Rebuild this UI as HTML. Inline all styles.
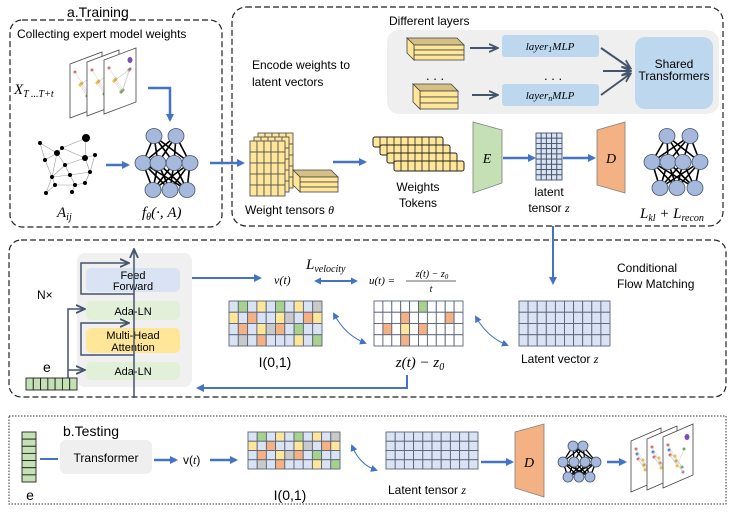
<!DOCTYPE html>
<html><head><meta charset="utf-8"><style>
html,body{margin:0;padding:0;background:#fff;}
svg{display:block;font-family:"Liberation Sans",sans-serif;}
.m{font-family:"Liberation Serif",serif;font-style:italic;}
</style></head><body>
<svg id="s" width="729" height="512" viewBox="0 0 729 512" xmlns="http://www.w3.org/2000/svg">
<defs>
<marker id="ab" markerWidth="8" markerHeight="8" refX="6" refY="4" orient="auto" markerUnits="userSpaceOnUse"><path d="M0,0 L8,4 L0,8 z" fill="#4472c4"/></marker>
<marker id="ag" markerWidth="10" markerHeight="10" refX="8" refY="5" orient="auto" markerUnits="userSpaceOnUse"><path d="M0,1 L9,5 L0,9" fill="none" stroke="#44546a" stroke-width="1.8"/></marker>
<marker id="as" markerWidth="7" markerHeight="7" refX="5" refY="3.5" orient="auto" markerUnits="userSpaceOnUse"><path d="M0,0 L7,3.5 L0,7 z" fill="#4472c4"/></marker>
<marker id="asr" markerWidth="7" markerHeight="7" refX="2" refY="3.5" orient="auto" markerUnits="userSpaceOnUse"><path d="M7,0 L0,3.5 L7,7 z" fill="#4472c4"/></marker>
</defs>

<rect x="10" y="20" width="212" height="207" rx="12" fill="none" stroke="#222" stroke-dasharray="6,3" stroke-width="1.2"/>
<rect x="232" y="7" width="491" height="219" rx="14" fill="none" stroke="#222" stroke-dasharray="6,3" stroke-width="1.2"/>
<rect x="9" y="240" width="717" height="157" rx="12" fill="none" stroke="#222" stroke-dasharray="6,3" stroke-width="1.2"/>
<rect x="9" y="416" width="717" height="88" fill="none" stroke="#333" stroke-dasharray="1.5,1.5" stroke-width="1"/>

<text x="67" y="17" font-size="14">a.Training</text>
<text x="17" y="38" font-size="12">Collecting expert model weights</text>
<text x="14" y="94" font-size="15" class="m">X<tspan font-size="10" dy="3">T ...T+t</tspan></text>
<g id="planesA"></g>
<path d="M148,88 H170 V120" fill="none" stroke="#4472c4" stroke-width="2.5" marker-end="url(#ab)"/>
<g id="graphA"></g>
<text x="57" y="217" font-size="15" class="m">A<tspan font-size="10" dy="3">ij</tspan></text>
<line x1="106" y1="165" x2="128" y2="165" stroke="#4472c4" stroke-width="2.5" marker-end="url(#ab)"/>
<g id="nn1"></g>
<text x="142" y="217" font-size="15" class="m">f<tspan font-size="10" dy="3">θ</tspan><tspan dy="-3">(·, A)</tspan></text>
<line x1="210" y1="163" x2="243" y2="163" stroke="#4472c4" stroke-width="2.5" marker-end="url(#ab)"/>

<text x="389" y="25" font-size="12">Different layers</text>
<rect x="387" y="30" width="332" height="84" rx="12" fill="#efefef"/>
<text x="252" y="69" font-size="12">Encode weights to</text>
<text x="252" y="86" font-size="12">latent vectors</text>
<g id="blocks"></g>
<line x1="470" y1="48" x2="497" y2="48" stroke="#44546a" stroke-width="2" marker-end="url(#ag)"/>
<line x1="472" y1="95" x2="497" y2="95" stroke="#44546a" stroke-width="2" marker-end="url(#ag)"/>
<rect x="502" y="35" width="97" height="22" rx="3" fill="#bdd7ee"/>
<rect x="502" y="84" width="97" height="22" rx="3" fill="#bdd7ee"/>
<text x="550" y="50" font-size="11" text-anchor="middle" class="m">layer<tspan font-size="8" dy="2">1</tspan><tspan dy="-2">MLP</tspan></text>
<text x="550" y="99" font-size="11" text-anchor="middle" class="m">layer<tspan font-size="8" dy="2">n</tspan><tspan dy="-2">MLP</tspan></text>
<text x="426" y="80" font-size="13">. . .</text>
<text x="544" y="80" font-size="13">. . .</text>
<line x1="601" y1="48" x2="630" y2="68" stroke="#44546a" stroke-width="2" marker-end="url(#ag)"/>
<line x1="603" y1="71" x2="630" y2="71" stroke="#44546a" stroke-width="2" marker-end="url(#ag)"/>
<line x1="601" y1="95" x2="630" y2="74" stroke="#44546a" stroke-width="2" marker-end="url(#ag)"/>
<rect x="635" y="37" width="78" height="72" rx="10" fill="#bdd7ee"/>
<text x="674" y="68" font-size="12" text-anchor="middle">Shared</text>
<text x="674" y="80" font-size="12" text-anchor="middle">Transformers</text>

<g id="wt"></g>
<text x="245" y="214" font-size="12">Weight tensors <tspan class="m">θ</tspan></text>
<line x1="333" y1="162" x2="365" y2="162" stroke="#4472c4" stroke-width="2.5" marker-end="url(#ab)"/>
<g id="tokens"></g>
<text x="418" y="191" font-size="12" text-anchor="middle">Weights</text>
<text x="418" y="207" font-size="12" text-anchor="middle">Tokens</text>
<polygon points="473,122 502,130 502,183 473,193" fill="#c5e0b4" stroke="#7f7f7f" stroke-width="0.8"/>
<text x="487" y="163" font-size="14" class="m" text-anchor="middle">E</text>
<line x1="503" y1="158" x2="534" y2="158" stroke="#4472c4" stroke-width="2.5" marker-end="url(#ab)"/>
<g id="lat1"></g>
<text x="549" y="196" font-size="12" text-anchor="middle">latent</text>
<text x="549" y="212" font-size="12" text-anchor="middle">tensor <tspan class="m">z</tspan></text>
<line x1="563" y1="158" x2="594" y2="158" stroke="#4472c4" stroke-width="2.5" marker-end="url(#ab)"/>
<polygon points="597,130 625,122 625,193 597,185" fill="#f4b183" stroke="#7f7f7f" stroke-width="0.8"/>
<text x="611" y="163" font-size="14" class="m" text-anchor="middle">D</text>
<g id="nn2"></g>
<text x="640" y="218" font-size="15" class="m">L<tspan font-size="10" dy="3">kl</tspan><tspan dy="-3"> + L</tspan><tspan font-size="10" dy="3">recon</tspan></text>

<line x1="553" y1="226" x2="553" y2="283" stroke="#4472c4" stroke-width="2" marker-end="url(#ab)"/>

<rect x="77" y="253" width="115" height="134" rx="8" fill="#f0f0f0"/>
<rect x="86" y="268" width="94" height="24" rx="5" fill="#dae3f3"/>
<text x="133" y="279" font-size="11" text-anchor="middle">Feed</text>
<text x="133" y="290" font-size="11" text-anchor="middle">Forward</text>
<rect x="86" y="301" width="94" height="19" rx="5" fill="#e2f0d9"/>
<text x="133" y="315" font-size="11" text-anchor="middle">Ada-LN</text>
<rect x="86" y="328" width="94" height="25" rx="5" fill="#ffe699"/>
<text x="133" y="339" font-size="11" text-anchor="middle">Multi-Head</text>
<text x="133" y="351" font-size="11" text-anchor="middle">Attention</text>
<rect x="86" y="362" width="94" height="18" rx="5" fill="#e2f0d9"/>
<text x="133" y="375" font-size="11" text-anchor="middle">Ada-LN</text>
<line x1="134" y1="398" x2="134" y2="250" stroke="#44546a" stroke-width="1.5" marker-end="url(#ag)"/>
<path d="M134,294 H81 V263 H128" fill="none" stroke="#44546a" stroke-width="1.5" marker-end="url(#ag)"/>
<path d="M134,355 H81 V323 H128" fill="none" stroke="#44546a" stroke-width="1.5" marker-end="url(#ag)"/>
<path d="M68,378 V309 H84" fill="none" stroke="#44546a" stroke-width="1.5" marker-end="url(#ag)"/>
<line x1="68" y1="370" x2="84" y2="370" stroke="#44546a" stroke-width="1.5" marker-end="url(#ag)"/>
<text x="37" y="299" font-size="12">N×</text>
<text x="43" y="372" font-size="14">e</text>
<g id="emb1"></g>
<line x1="192" y1="278" x2="260" y2="278" stroke="#4472c4" stroke-width="2" marker-end="url(#ab)"/>
<text x="274" y="284" font-size="12" class="m">v(t)</text>
<text x="306" y="269" font-size="15" class="m">L<tspan font-size="10" dy="3">velocity</tspan></text>
<line x1="316" y1="281" x2="356" y2="281" stroke="#4472c4" stroke-width="2" marker-start="url(#asr)" marker-end="url(#as)"/>
<text x="369" y="284" font-size="11" class="m">u(t) =</text>
<text x="432" y="277" font-size="10" class="m" text-anchor="middle">z(t) − z<tspan font-size="7" dy="2">0</tspan></text>
<line x1="406" y1="281" x2="456" y2="281" stroke="#333" stroke-width="0.8"/>
<text x="431" y="292" font-size="10" class="m" text-anchor="middle">t</text>
<g id="g1"></g>
<text x="275" y="367" font-size="14" text-anchor="middle">I(0,1)</text>
<g id="g2"></g>
<text x="420" y="367" font-size="15" class="m" text-anchor="middle">z(t) − z<tspan font-size="10" dy="3">0</tspan></text>
<g id="g3"></g>
<text x="521" y="363" font-size="12">Latent vector <tspan class="m">z</tspan></text>
<text x="617" y="272" font-size="12">Conditional</text>
<text x="617" y="288" font-size="12">Flow Matching</text>
<path d="M334,314 Q345,335 365,343" fill="none" stroke="#4472c4" stroke-width="1" marker-start="url(#asr)" marker-end="url(#as)"/>
<path d="M476,317 Q487,337 507,345" fill="none" stroke="#4472c4" stroke-width="1" marker-start="url(#asr)" marker-end="url(#as)"/>
<path d="M407,375 V388 H198" fill="none" stroke="#4472c4" stroke-width="2" marker-end="url(#ab)"/>

<text x="63" y="436" font-size="14">b.Testing</text>
<g id="emb2"></g>
<text x="30" y="500" font-size="14" text-anchor="middle">e</text>
<line x1="40" y1="459" x2="58" y2="459" stroke="#4472c4" stroke-width="2"/>
<rect x="60" y="440" width="92" height="34" rx="6" fill="#efefef"/>
<text x="106" y="462" font-size="12" text-anchor="middle">Transformer</text>
<line x1="154" y1="460" x2="176" y2="460" stroke="#4472c4" stroke-width="2.5" marker-end="url(#ab)"/>
<text x="183" y="464" font-size="12">v(<tspan class="m">t</tspan>)</text>
<line x1="210" y1="460" x2="236" y2="460" stroke="#4472c4" stroke-width="2.5" marker-end="url(#ab)"/>
<g id="g4"></g>
<text x="290" y="500" font-size="14" text-anchor="middle">I(0,1)</text>
<path d="M352,446 Q360,465 376,470" fill="none" stroke="#4472c4" stroke-width="1" marker-start="url(#asr)" marker-end="url(#as)"/>
<g id="g5"></g>
<text x="388" y="494" font-size="12">Latent tensor <tspan class="m">z</tspan></text>
<line x1="481" y1="462" x2="512" y2="462" stroke="#4472c4" stroke-width="2.5" marker-end="url(#ab)"/>
<polygon points="515,432 544,424 544,497 515,488" fill="#f4b183" stroke="#7f7f7f" stroke-width="0.8"/>
<text x="529" y="467" font-size="14" class="m" text-anchor="middle">D</text>
<g id="nn3"></g>
<line x1="607" y1="462" x2="625" y2="462" stroke="#4472c4" stroke-width="2.5" marker-end="url(#ab)"/>
<g id="planesB"></g>
</svg>
<script>
var NS="http://www.w3.org/2000/svg";
function el(p,t,a){var e=document.createElementNS(NS,t);for(var k in a)e.setAttribute(k,a[k]);document.getElementById(p).appendChild(e);return e;}
function grid(id,x,y,w,h,cols,rows,fill,colors,stroke){
  var cw=w/cols,ch=h/rows;
  for(var r=0;r<rows;r++)for(var c=0;c<cols;c++){
    var f=fill; if(colors&&colors[r]&&colors[r][c])f=colors[r][c];
    el(id,"rect",{x:x+c*cw,y:y+r*ch,width:cw,height:ch,fill:f,stroke:stroke||"#5a6478","stroke-width":0.9});
  }
}
var B="#dae3f3",G="#a9d18e",Y="#ffe699",O="#f4b183",S="#c9c9c9",W="#fff";
function parse(s){return s.split("|").map(function(r){return r.split("").map(function(ch){return {b:B,g:G,y:Y,o:O,s:S,w:W}[ch];});});}
var noise=parse("bgbybgbybs|ybobbysboy|bobysobgbb|bsbobbbybg");
grid("g1",229,301,93,45,10,4,B,noise);
grid("g2",374,301,89,45,10,4,W,parse("wwwwwgwwww|wwwowwwwow|wowywowwww|wwwowwwwww"));
grid("g3",519,301,91,45,10,4,B);
grid("g4",248,432,92,37,10,4,B,noise);
grid("g5",386,432,92,37,10,4,B);
grid("lat1",536,133,26,47,5,9,"#dae3f3",null,"#44546a");
grid("emb1",26,378,51,12,7,1,"#c5e0b4",null,"#222");
grid("emb2",22,432,14,50,1,7,"#c5e0b4",null,"#222");
function nn(id,top,mid,bot,ty,my,by,rx,ry,sw){
  function L(a,b,ya,yb){a.forEach(function(x1){b.forEach(function(x2){el(id,"line",{x1:x1,y1:ya,x2:x2,y2:yb,stroke:"#000","stroke-width":sw});});});}
  L(top,mid,ty,my);L(mid,bot,my,by);
  [[top,ty],[mid,my],[bot,by]].forEach(function(p){p[0].forEach(function(x){el(id,"ellipse",{cx:x,cy:p[1],rx:rx,ry:ry,fill:"#a6b9dc",stroke:"#44546a","stroke-width":0.8});});});
}
nn("nn1",[154,176],[143,158,174,190],[153,170,187],136,163,190,8,7.5,1.6);
nn("nn2",[667,690],[652,668,683,700],[660,677,695],136,162,188,8,7.5,1.6);
nn("nn3",[573,583],[563,574,585,596],[568,579,590],446,462,477,5,5,1.3);
var pts=[[40,143],[62,148],[86,138],[45,160],[57,153],[65,165],[85,158],[95,155],[52,177],[70,175],[90,172],[55,185],[75,185],[85,183],[46,193],[72,192]];
var edges=[[0,4],[1,4],[1,6],[2,6],[3,4],[4,5],[5,6],[6,7],[5,9],[4,8],[8,9],[9,10],[6,10],[8,11],[9,12],[10,13],[11,14],[12,15],[11,12],[3,8],[5,8],[12,13],[1,2],[0,3],[7,10],[13,10],[14,8]];
edges.forEach(function(e){el("graphA","line",{x1:pts[e[0]][0],y1:pts[e[0]][1],x2:pts[e[1]][0],y2:pts[e[1]][1],stroke:"#999","stroke-width":0.6});});
pts.forEach(function(p,i){el("graphA","circle",{cx:p[0],cy:p[1],r:(i==2?4:(i==4||i==6?3:2)),fill:"#000"});});
function planes(id,x0,y0,w,h,dx,dy,n,sk){
  for(var i=0;i<n;i++){var x=x0+i*dx,y=y0+i*dy;
    el(id,"polygon",{points:(x)+","+(y+sk)+" "+(x+w)+","+(y)+" "+(x+w)+","+(y+h-sk)+" "+(x)+","+(y+h),fill:"#fff",stroke:"#444","stroke-width":0.8});
    var cols=["#e06666","#f1c232","#6aa84f","#3d85c6","#e69138","#c27ba0"];
    for(var k=0;k<9;k++){var px=x+5+((k*7)%(w-10)),py=y+sk+8+((k*11)%(h-2*sk-10));
      el(id,"circle",{cx:px,cy:py,r:1.5,fill:cols[k%6]});
      if(k>0)el(id,"line",{x1:px,y1:py,x2:x+5+(((k-1)*7)%(w-10)),y2:y+sk+8+(((k-1)*11)%(h-2*sk-10)),stroke:"#bbb","stroke-width":0.4});}
    el(id,"ellipse",{cx:x+w-6,cy:y+sk,rx:2.5,ry:3,fill:"#7b4fb5"});
  }
}
planes("planesA",70,52,32,66,17,-2,3,12);
planes("planesB",631,428,30,64,16,-2,3,13);
function slab(id,x,y,w,h,n,d){
  el(id,"polygon",{points:x+","+y+" "+(x+w)+","+y+" "+(x+w+d)+","+(y+d)+" "+(x+d)+","+(y+d),fill:"#d4bf84",stroke:"#444","stroke-width":0.8});
  for(var i=0;i<n;i++)el(id,"rect",{x:x+d,y:y+d+i*h,width:w,height:h,fill:"#ffe699",stroke:"#444","stroke-width":0.8});
  el(id,"polygon",{points:x+","+y+" "+(x+d)+","+(y+d)+" "+(x+d)+","+(y+d+n*h)+" "+x+","+(y+n*h),fill:"#ffe699",stroke:"#444","stroke-width":0.8});
}
slab("blocks",407,38,50,5,3,7);
slab("blocks",413,84,38,6,3,7);
for(var i=2;i>=0;i--)grid("wt",250+i*4,137-i*4+4,35,55,5,5,"#ffe699",null,"#555");
slab("wt",293,170,38,5,3,7);
for(var i=0;i<4;i++){var x=373+i*7,y=137+i*8;
  el("tokens","rect",{x:x,y:y,width:70,height:10,rx:2,fill:"#ffe699",stroke:"#222","stroke-width":1});
  for(var c=1;c<10;c++)el("tokens","line",{x1:x+c*7,y1:y,x2:x+c*7,y2:y+10,stroke:"#222","stroke-width":0.8});}
</script>
</body></html>
